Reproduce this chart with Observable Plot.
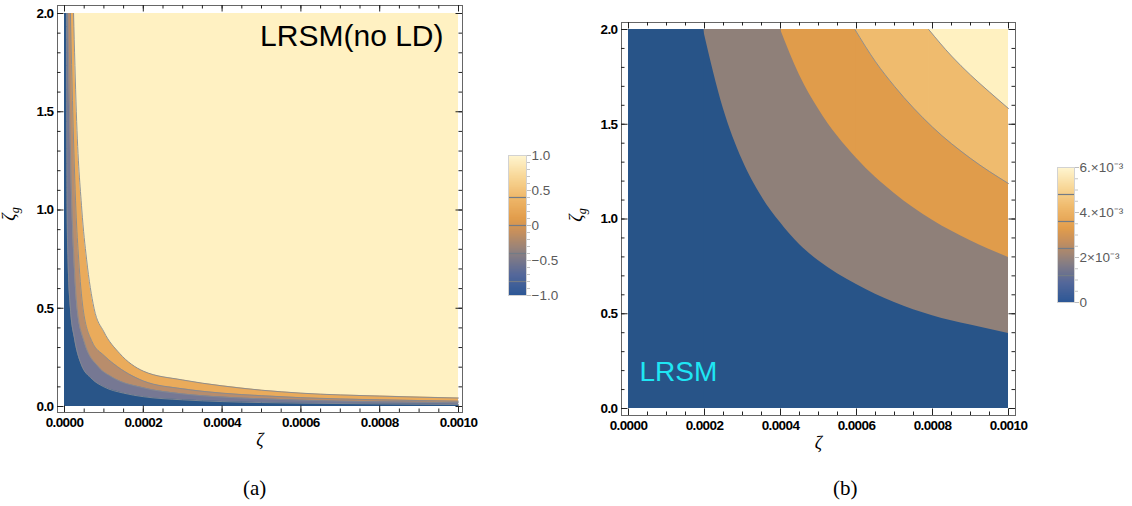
<!DOCTYPE html>
<html><head><meta charset="utf-8">
<script src="https://cdn.jsdelivr.net/npm/d3@7"></script>
<script src="https://cdn.jsdelivr.net/npm/@observablehq/plot@0.6"></script>
<style>
body{margin:0;background:#fff;}
#root{position:relative;width:1132px;height:506px;overflow:hidden;background:#fff;font-family:"Liberation Sans",Arial,sans-serif;}
#root > div{position:absolute;}
.cap{font-family:"Liberation Serif","Times New Roman",serif;font-size:21px;color:#000;}
g[aria-label="x-axis tick label"] text, g[aria-label="y-axis tick label"] text{letter-spacing:-0.6px;}
.cb g[aria-label="y-axis tick label"] text{letter-spacing:0;}
</style></head><body><div id="root"></div>
<script>
// ---------- data ----------
const zetaTicks = [0, 0.0002, 0.0004, 0.0006, 0.0008, 0.001];
const zetaGTicks = [0, 0.5, 1.0, 1.5, 2.0];

// panel (a): contour boundaries, [ζ, ζg]
const aBound1 = [[0,2],[5e-6,2],[5.5e-6,1.5],[6.5e-6,1.0],[9e-6,0.75],[1.5e-5,0.5],[2.5e-5,0.35],[4.2e-5,0.217],[7e-5,0.14],[1e-4,0.1],[1.5e-4,0.068],[2e-4,0.05],[3e-4,0.034],[4e-4,0.025],[5e-4,0.02],[6e-4,0.017],[8e-4,0.013],[1e-3,0.01]];
const aBound2 = [[0,2],[8e-6,2],[1.3e-5,1.5],[1.9e-5,1.0],[2.4e-5,0.75],[3.2e-5,0.5],[5e-5,0.33],[8.7e-5,0.2],[1.2e-4,0.15],[2e-4,0.095],[3e-4,0.064],[4e-4,0.048],[5e-4,0.039],[6e-4,0.032],[8e-4,0.024],[1e-3,0.019]];
const aBound3 = [[0,2],[1.5e-5,2],[2.1e-5,1.5],[2.9e-5,1.0],[3.6e-5,0.75],[4.7e-5,0.5],[7e-5,0.33],[1e-4,0.26],[1.25e-4,0.217],[2e-4,0.13],[3e-4,0.09],[4e-4,0.068],[5e-4,0.055],[6e-4,0.045],[8e-4,0.034],[1e-3,0.027]];
const aBound4 = [[0,2],[2.3e-5,2],[3.0e-5,1.5],[4.4e-5,1.0],[5.6e-5,0.75],[7.5e-5,0.5],[1e-4,0.38],[1.4e-4,0.27],[2e-4,0.18],[3e-4,0.135],[4e-4,0.105],[5e-4,0.083],[6e-4,0.068],[8e-4,0.053],[1e-3,0.043]];
const aBandColors = ["#295588", "#767893", "#b88d6c", "#eaab5b", "#fff1c2"];

// panel (b): contour boundaries, [ζ, ζg]
const bBound1 = [[0,2],[1.97e-4,2],[2.5e-4,1.58],[3e-4,1.31],[3.5e-4,1.12],[4e-4,0.98],[4.5e-4,0.865],[5e-4,0.78],[6e-4,0.655],[7e-4,0.56],[8e-4,0.49],[9e-4,0.44],[1e-3,0.396]];
const bBound2 = [[0,2],[4e-4,2],[4.5e-4,1.76],[5e-4,1.58],[6e-4,1.32],[7e-4,1.135],[8e-4,0.993],[9e-4,0.885],[1e-3,0.797]];
const bBound3 = [[0,2],[5.96e-4,2],[6.5e-4,1.83],[7e-4,1.7],[8e-4,1.485],[9e-4,1.32],[1e-3,1.187]];
const bBound4 = [[0,2],[7.9e-4,2],[8.5e-4,1.86],[9e-4,1.76],[9.5e-4,1.67],[1e-3,1.583]];
const bBandColors = ["#285488", "#8f8079", "#e09c4b", "#efbb6e", "#fff1c1"];

// colour bars
const gradT = [0, 0.15, 0.3, 0.45, 0.55, 0.7, 0.85, 1];
const gradColors = ["#2c5796", "#55689a", "#8a7f82", "#c58f5e", "#e29d4c", "#efb86a", "#f8d898", "#fff5d0"];
const cbTicksA = [-1, -0.5, 0, 0.5, 1];
const cbLabelsA = ["\u22121.0", "\u22120.5", "0", "0.5", "1.0"];
const cbLevelsA = [-0.8, -0.4, 0, 0.4];
const cbTicksB = [0, 0.002, 0.004, 0.006];
const cbLabelsB = ["0", "2\u00d710\u207b\u00b3", "4.\u00d710\u207b\u00b3", "6.\u00d710\u207b\u00b3"];
const cbLevelsB = [0.0012, 0.0024, 0.0036, 0.0048];

const titleA = "LRSM(no LD)";
const titleB = "LRSM";
const captions = ["(a)", "(b)"];

// ---------- helpers ----------
const xExt = d3.extent(zetaTicks), yExt = d3.extent(zetaGTicks);
const minorX = d3.range(xExt[0], xExt[1] + 1e-12, 0.00005);
const minorY = d3.range(yExt[0], yExt[1] + 1e-9, 0.1);
const px = d => d[0], py = d => d[1];

function frameTicks(fw, fh) {
  const s = "#222";
  return [
    Plot.tickX(minorX, {insetTop: fh - 3.5, stroke: s}),
    Plot.tickX(minorX, {insetBottom: fh - 3.5, stroke: s}),
    Plot.tickX(zetaTicks, {insetTop: fh - 6.5, stroke: s}),
    Plot.tickX(zetaTicks, {insetBottom: fh - 6.5, stroke: s}),
    Plot.tickY(minorY, {insetRight: fw - 3.5, stroke: s}),
    Plot.tickY(minorY, {insetLeft: fw - 3.5, stroke: s}),
    Plot.tickY(zetaGTicks, {insetRight: fw - 6.5, stroke: s}),
    Plot.tickY(zetaGTicks, {insetLeft: fw - 6.5, stroke: s})
  ];
}

function panel({width, height, mL, mR, mT, mB, iL, iR, iT, iB, bounds, colors, lineBounds, extra}) {
  const fw = width - mL - mR, fh = height - mT - mB;
  const marks = [
    Plot.rect([0], {x1: xExt[0], x2: xExt[1], y1: yExt[0], y2: yExt[1], fill: colors[4]})
  ];
  for (let i = 3; i >= 0; i--) {
    const b = bounds[i];
    // region under the boundary curve
    marks.push(Plot.areaY(b.slice(1), {x: px, y: py, fill: colors[i], curve: "monotone-x"}));
    // full-height strip left of where the boundary meets the top edge (overlaps the area by a hair to hide the seam)
    marks.push(Plot.rect([b], {x1: d => d[0][0], x2: d => d[1][0], y1: yExt[0], y2: d => d[1][1], fill: colors[i], insetRight: -0.7}));
  }
  for (const b of lineBounds) {
    marks.push(Plot.line(b.slice(1), {x: px, y: py, stroke: "#858a92", strokeWidth: 0.9, curve: "monotone-x"}));
  }
  marks.push(...extra);
  marks.push(Plot.frame({stroke: "#666"}));
  marks.push(...frameTicks(fw, fh));
  marks.push(Plot.axisX(zetaTicks, {anchor: "bottom", tickSize: 0, tickPadding: 5, tickFormat: d3.format(".4f"), label: null, fontWeight: "bold", fontSize: 13.5}));
  marks.push(Plot.axisY(zetaGTicks, {anchor: "left", tickSize: 0, tickPadding: 4, tickFormat: d3.format(".1f"), label: null, fontWeight: "bold", fontSize: 13.5}));
  marks.push(Plot.text(["\u03b6"], {frameAnchor: "bottom", dy: 33, fontStyle: "italic", fontFamily: "Liberation Serif", fontSize: 18, fill: "#000"}));
  return Plot.plot({
    width, height, marginLeft: mL, marginRight: mR, marginTop: mT, marginBottom: mB,
    x: {type: "linear", domain: xExt, insetLeft: iL, insetRight: iR},
    y: {type: "linear", domain: yExt, insetTop: iT, insetBottom: iB},
    style: {background: "transparent", fontFamily: "Liberation Sans, Arial, sans-serif", color: "#000", overflow: "visible"},
    marks
  });
}

function addZetaG(svg, x, y) {
  const t = d3.select(svg).append("text")
    .attr("transform", `translate(${x},${y}) rotate(-90)`)
    .attr("text-anchor", "middle")
    .attr("font-family", "Liberation Serif, serif")
    .attr("font-style", "italic")
    .attr("fill", "#000");
  t.append("tspan").attr("font-size", 18).text("\u03b6");
  t.append("tspan").attr("font-size", 12).attr("dy", 4).text("g");
}

function colorbar({width, height, mL, mR, mT, mB, domain, ticks, labels, levels, minor}) {
  const dom = d3.extent(domain);
  const cdom = gradT.map(t => dom[0] + t * (dom[1] - dom[0]));
  return Plot.plot({
    width, height, marginLeft: mL, marginRight: mR, marginTop: mT, marginBottom: mB,
    x: {domain: [0, 1], axis: null},
    y: {domain: dom},
    color: {type: "linear", domain: cdom, range: gradColors},
    style: {background: "transparent", fontFamily: "Liberation Sans, Arial, sans-serif", overflow: "visible"},
    marks: [
      Plot.raster({fill: (x, y) => y, x1: 0, x2: 1, y1: dom[0], y2: dom[1], width: 2, height: 200}),
      Plot.ruleY(levels, {stroke: "#737b86", strokeWidth: 1.2}),
      Plot.frame({stroke: "#d2d2d2"}),
      Plot.axisY(minor, {anchor: "right", tickSize: 3, text: null, stroke: "#c4c4c4", label: null}),
      Plot.axisY(ticks, {anchor: "right", tickSize: 4, tickPadding: 1, stroke: "#bdbdbd", fill: "#5a5a5a", fontSize: 13.5, label: null,
        tickFormat: d => labels[ticks.indexOf(d)]})
    ]
  });
}

// ---------- build ----------
const root = document.getElementById("root");
function place(el, left, top, cls) {
  const div = document.createElement("div");
  div.style.left = left + "px"; div.style.top = top + "px";
  if (cls) div.className = cls;
  div.appendChild(el);
  root.appendChild(div);
  return div;
}

const svgA = panel({
  width: 470, height: 460, mL: 57, mR: 8, mT: 5, mB: 48, iL: 7, iR: 4, iT: 8, iB: 6,
  bounds: [aBound1, aBound2, aBound3, aBound4], colors: aBandColors,
  lineBounds: [aBound1, aBound2, aBound3, aBound4],
  extra: [Plot.text([titleA], {frameAnchor: "top-right", textAnchor: "end", lineAnchor: "top", dx: -19, dy: 19, fontSize: 30, fontWeight: "normal", fill: "#000"})]
});
addZetaG(svgA, 15, 214);
place(svgA, 0, 0);

const svgB = panel({
  width: 470, height: 460, mL: 61, mR: 15, mT: 22, mB: 45, iL: 7, iR: 7, iT: 7, iB: 7,
  bounds: [bBound1, bBound2, bBound3, bBound4], colors: bBandColors,
  lineBounds: [bBound3, bBound4],
  extra: [Plot.text([titleB], {frameAnchor: "top-left", textAnchor: "start", lineAnchor: "top", dx: 18, dy: 339, fontSize: 28, fontWeight: "normal", fill: "#1fe6f4"})]
});
addZetaG(svgB, 22, 215);
place(svgB, 560, 0);

const cbA = colorbar({width: 80, height: 170, mL: 18, mR: 44, mT: 15, mB: 15,
  domain: cbTicksA, ticks: cbTicksA, labels: cbLabelsA, levels: cbLevelsA, minor: d3.range(-1, 1.0001, 0.1)});
place(cbA, 490, 140, "cb");

const cbB = colorbar({width: 92, height: 170, mL: 17, mR: 58, mT: 17, mB: 18,
  domain: cbTicksB, ticks: cbTicksB, labels: cbLabelsB, levels: cbLevelsB, minor: d3.range(0, 0.0060001, 0.0005)});
place(cbB, 1040, 150, "cb");

const capA = document.createElement("span"); capA.textContent = captions[0];
place(capA, 243, 476, "cap");
const capB = document.createElement("span"); capB.textContent = captions[1];
place(capB, 833, 476, "cap");
</script></body></html>
